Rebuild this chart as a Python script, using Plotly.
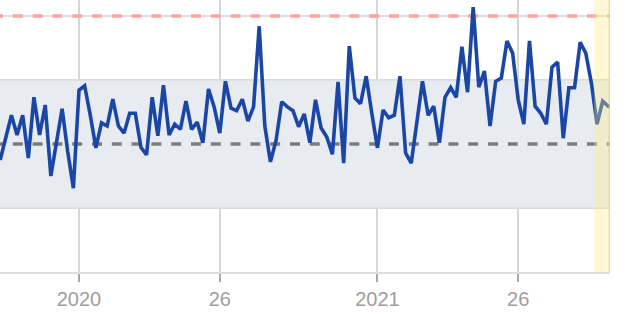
import plotly.graph_objects as go

# weeks relative to 2020-W01 (0 = 2020 week 1)
weeks = list(range(-14, 96))
values = [
    17.5, 21.1, 24.5, 21.4, 24.5, 17.8, 27.3, 21.4, 26.1, 15.0,
    20.6, 25.5, 18.8, 13.1, 28.4, 29.1, 24.5, 19.4, 23.3, 22.8,
    27.0, 22.8, 21.7, 24.8, 24.8, 19.5, 18.3, 27.3, 21.3, 29.2,
    21.4, 23.1, 22.3, 26.7, 22.3, 23.4, 20.2, 28.6, 25.8, 21.7,
    29.8, 25.6, 25.2, 27.0, 23.6, 25.8, 38.4, 22.8, 17.2, 20.6,
    26.6, 25.8, 25.2, 22.7, 24.7, 20.2, 26.9, 22.5, 21.1, 18.4,
    29.7, 17.0, 35.3, 27.2, 26.3, 30.6, 24.8, 19.4, 25.3, 24.1,
    24.5, 30.6, 18.6, 17.0, 23.4, 29.8, 24.5, 25.9, 20.2, 27.3,
    28.8, 27.3, 35.2, 28.1, 41.4, 28.9, 31.4, 22.8, 29.8, 30.3,
    36.1, 34.2, 26.9, 23.1, 36.1, 25.9, 24.8, 23.1, 32.0, 32.8,
    20.9, 28.8, 28.8, 35.9, 34.2, 29.5, 23.1, 26.7, 25.9, 25.8,
]
tick_vals = [0, 25, 53, 78]
tick_text = ["2020", "26", "2021", "26"]
mean_value = 20
band_low, band_high = 10, 30
upper_limit = 40
highlight_start, highlight_end = 91.5, 94.3
x_range = [-14.03, 94.3]
y_range = [0, 42.5]

x0, x1 = x_range
fig = go.Figure()
# control band (as a trace so it sits above the grid)
fig.add_trace(go.Scatter(
    x=[x0 - 1, x1 + 1, x1 + 1, x0 - 1, x0 - 1],
    y=[band_low, band_low, band_high, band_high, band_low],
    fill="toself", fillcolor="#e8ecf1", mode="lines",
    line=dict(color="#dcdcdc", width=1.5),
    hoverinfo="skip", showlegend=False,
))
# mean line
fig.add_trace(go.Scatter(
    x=[x0 - 1.24, x1 + 1], y=[mean_value, mean_value], mode="lines",
    line=dict(color="#7b7b7b", width=3.3, dash="dash"),
    hoverinfo="skip", showlegend=False,
))
# upper limit
fig.add_trace(go.Scatter(
    x=[x0 - 1.24, x1 + 1], y=[upper_limit, upper_limit], mode="lines",
    line=dict(color="#ffa3a3", width=3.3, dash="dash"),
    hoverinfo="skip", showlegend=False,
))
fig.add_trace(go.Scatter(
    x=weeks, y=values, mode="lines",
    line=dict(color="#1a47a6", width=3.6),
    hoverinfo="skip", showlegend=False,
))

# highlight current period
fig.add_shape(type="rect", xref="x", yref="paper", x0=highlight_start, x1=highlight_end,
              y0=0, y1=1, fillcolor="rgba(255,236,130,0.35)",
              line=dict(width=0), layer="above")
fig.add_shape(type="line", xref="x", yref="paper", x0=highlight_end - 0.1, x1=highlight_end - 0.1,
              y0=0, y1=1, line=dict(color="rgba(225,210,140,0.7)", width=1.5), layer="above")

fig.update_layout(
    width=630, height=319,
    margin=dict(l=0, r=20, t=0, b=47),
    paper_bgcolor="white", plot_bgcolor="white",
    font=dict(family="Liberation Sans, Arial, sans-serif"),
)
fig.update_xaxes(
    range=x_range, tickmode="array", tickvals=tick_vals, ticktext=tick_text,
    showgrid=True, gridcolor="#d6d6d6", gridwidth=2,
    showline=True, linecolor="#dedede", linewidth=2,
    ticks="outside", ticklen=8, tickwidth=2, tickcolor="#a8a8a8",
    tickfont=dict(size=20, color="#a29d9d"), zeroline=False,
)
fig.update_yaxes(
    range=y_range, tickmode="array", tickvals=[10, 20, 30, 40],
    showgrid=True, gridcolor="#dedede", gridwidth=2,
    showticklabels=False, zeroline=False, showline=False,
)

fig.write_html("out.html")
